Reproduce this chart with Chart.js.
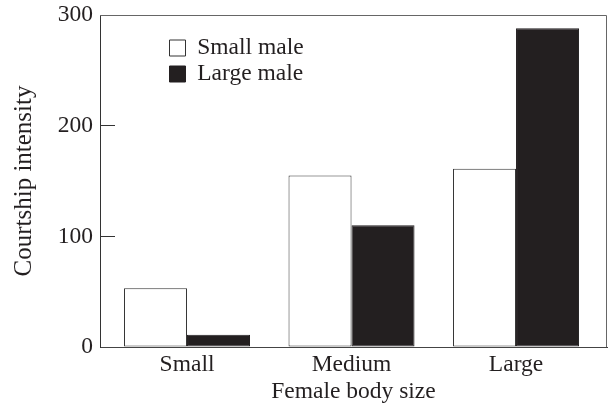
<!DOCTYPE html>
<html>
<head>
<meta charset="utf-8">
<script src="https://cdn.jsdelivr.net/npm/chart.js@4/dist/chart.umd.min.js"></script>
<style>
  html, body { margin: 0; padding: 0; background: #ffffff; }
  #wrap { width: 609px; height: 412px; }
</style>
</head>
<body>
<div id="wrap"><canvas id="c" width="609" height="412"></canvas></div>
<script>
const categories = ["Small", "Medium", "Large"];
const seriesNames = ["Small male", "Large male"];
const smallMale = [53, 155, 161];
const largeMale = [11, 110, 288];
const yTicks = [0, 100, 200, 300];
const xTitle = "Female body size";
const yTitle = "Courtship intensity";

const FONT = "'Liberation Serif', 'Times New Roman', serif";
const INK = "#231f20";

const framePlugin = {
  id: 'frame',
  afterLayout(chart) {
    const lg = chart.legend;
    if (lg) {
      lg.left = chart.chartArea.left + 67;
      lg.top = chart.chartArea.top + 18.75;
    }
  },
  afterDraw(chart) {
    const a = chart.chartArea, ctx = chart.ctx;
    ctx.save();
    ctx.strokeStyle = '#666';
    ctx.lineWidth = 1;
    ctx.beginPath();
    ctx.moveTo(a.left, a.top + 0.5);
    ctx.lineTo(a.right - 0.5, a.top + 0.5);
    ctx.lineTo(a.right - 0.5, a.bottom);
    ctx.stroke();
    ctx.restore();
  }
};

new Chart(document.getElementById('c'), {
  type: 'bar',
  data: {
    datasets: [
      { label: seriesNames[0], data: smallMale.map((v, i) => ({x: i, y: v})),
        backgroundColor: '#ffffff', borderColor: '#333', borderWidth: 1, borderSkipped: false },
      { label: seriesNames[1], data: largeMale.map((v, i) => ({x: i, y: v})),
        backgroundColor: INK, borderColor: INK, borderWidth: 1, borderSkipped: false }
    ]
  },
  options: {
    responsive: false,
    animation: false,
    devicePixelRatio: 1,
    layout: { padding: { top: 15, right: 2, bottom: 0, left: 0 } },
    datasets: { bar: { categoryPercentage: 0.766, barPercentage: 1.0 } },
    plugins: {
      tooltip: { enabled: false },
      legend: {
        position: 'chartArea',
        align: 'start',
        labels: {
          boxWidth: 16, boxHeight: 16, padding: 2.5,
          color: INK,
          font: { family: FONT, size: 23.5, lineHeight: 1 }
        }
      }
    },
    scales: {
      x: {
        type: 'linear',
        offset: false,
        min: -0.529,
        max: 2.553,
        afterBuildTicks: s => { s.ticks = categories.map((c, i) => ({ value: i })); },
        afterFit: s => { s.height = 65; s.paddingLeft = 0; s.paddingRight = 0; },
        grid: { display: true, drawOnChartArea: false, drawTicks: false },
        border: { display: true, color: '#444', width: 1 },
        ticks: {
          padding: 4,
          color: INK,
          font: { family: FONT, size: 23.5 },
          callback: v => categories[v] !== undefined ? categories[v] : ''
        },
        title: {
          display: true, text: xTitle, color: INK,
          font: { family: FONT, size: 23.5 },
          padding: { top: 0, bottom: 6 }
        }
      },
      y: {
        min: 0, max: 300,
        afterBuildTicks: s => { s.ticks = yTicks.map(v => ({ value: v })); },
        afterFit: s => { s.width = 100; s.paddingTop = 0; s.paddingBottom = 0; },
        grid: { display: true, drawOnChartArea: false, drawTicks: true, tickLength: -15, color: '#333' },
        border: { display: true, color: '#333', width: 1 },
        ticks: {
          padding: 22,
          color: INK,
          font: { family: FONT, size: 23.5 }
        },
        title: {
          display: true, text: yTitle, color: INK,
          font: { family: FONT, size: 25 },
          padding: { top: 9.6, bottom: 0 }
        }
      }
    }
  },
  plugins: [framePlugin]
});
</script>
</body>
</html>
